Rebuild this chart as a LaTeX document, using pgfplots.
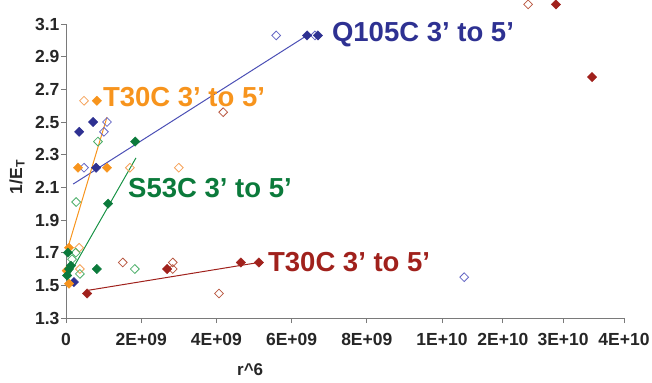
\documentclass[border=0pt]{standalone}
\usepackage{pgfplots}
\pgfplotsset{compat=1.18}
\usepackage{fontspec}
\setmainfont{Liberation Sans}
\definecolor{qblue}{HTML}{2E3192}
\definecolor{qbluel}{HTML}{4B4FB5}
\definecolor{qblueo}{HTML}{6466C4}
\definecolor{torange}{HTML}{F7941D}
\definecolor{torangeo}{HTML}{F5A25A}
\definecolor{sgreen}{HTML}{0B7A3B}
\definecolor{sgreenl}{HTML}{1B9448}
\definecolor{sgreeno}{HTML}{4DAF6A}
\definecolor{tred}{HTML}{A0211C}
\definecolor{tredo}{HTML}{B8563F}
\definecolor{axgray}{HTML}{7A7A7A}
\begin{document}
\begin{tikzpicture}
\useasboundingbox (-66bp,-65bp) rectangle (586bp,318bp);
\begin{axis}[
  at={(0,0)}, anchor=south west,
  scale only axis, width=558bp, height=294bp,
  xmin=0, xmax=14.84, ymin=1.3, ymax=3.1,
  axis x line=bottom, axis y line=left,
  axis line style={-, draw=axgray, line width=0.9pt},
  tick align=outside, major tick length=5bp,
  tick style={draw=axgray, line width=0.9pt},
  xtick={0,2,4,6,8,10,11.62,13.22,14.84},
  xticklabels={0,2E+09,4E+09,6E+09,8E+09,1E+10,2E+10,3E+10,4E+10},
  ytick={1.3,1.5,1.7,1.9,2.1,2.3,2.5,2.7,2.9,3.1},
  yticklabel style={xshift=2bp, /pgf/number format/.cd, fixed, fixed zerofill, precision=1},
  /pgf/number format/assume math mode=true,
  ticklabel style={font=\fontsize{17.5bp}{20bp}\selectfont\bfseries, text=black!85},
  xticklabel style={yshift=-7bp},
  xlabel={r\^{}6},
  xlabel style={at={(axis description cs:0.33,0)}, anchor=center, yshift=-52bp, font=\fontsize{17bp}{20bp}\selectfont\bfseries, text=black!85},
  ylabel={1/E\textsubscript{T}},
  ylabel style={at={(axis description cs:-0.0878,0.48)}, anchor=center, font=\fontsize{17.5bp}{20bp}\selectfont\bfseries, text=black!85},
  clip=false,
  every axis plot/.append style={line width=1pt},
]
% trend lines
\addplot[qbluel, no marks] coordinates {(0.19,2.12) (6.41,3.03)};
\addplot[torange, no marks] coordinates {(0.05,1.73) (1.09,2.53)};
\addplot[sgreenl, no marks] coordinates {(0.05,1.55) (1.86,2.28)};
\addplot[tred, no marks] coordinates {(0.60,1.47) (5.13,1.64)};
% open markers
\addplot[only marks, mark=square, mark size=3.1bp, mark options={rotate=45, draw=qblueo, fill=white, line width=0.8pt}] coordinates {
(1.09,2.50) (1.01,2.44) (0.48,2.22) (5.59,3.03) (10.59,1.55) (6.62,3.03)};
\addplot[only marks, mark=square, mark size=3.1bp, mark options={rotate=45, draw=torangeo, fill=white, line width=0.8pt}] coordinates {
(0.48,2.63) (1.70,2.22) (3.00,2.22) (0.35,1.73) (0.37,1.60)};
\addplot[only marks, mark=square, mark size=3.1bp, mark options={rotate=45, draw=sgreeno, fill=white, line width=0.8pt}] coordinates {
(0.85,2.38) (0.27,2.01) (0.26,1.70) (0.16,1.66) (0.37,1.57) (1.83,1.60)};
\addplot[only marks, mark=square, mark size=3.1bp, mark options={rotate=45, draw=tredo, fill=white, line width=0.8pt}] coordinates {
(1.51,1.64) (2.84,1.64) (2.84,1.60) (4.07,1.45) (4.18,2.56) (12.29,3.22)};
% filled markers
\addplot[only marks, mark=square*, mark size=3.3bp, mark options={rotate=45, draw=qblue, fill=qblue, line width=0.4pt}] coordinates {
(0.35,2.44) (0.72,2.50) (0.80,2.22) (0.21,1.52) (6.41,3.03) (6.70,3.03)};
\addplot[only marks, mark=square*, mark size=3.3bp, mark options={rotate=45, draw=torange, fill=torange, line width=0.4pt}] coordinates {
(0.82,2.63) (0.32,2.22) (1.09,2.22) (0.08,1.73) (0.02,1.59) (0.08,1.51)};
\addplot[only marks, mark=square*, mark size=3.3bp, mark options={rotate=45, draw=sgreen, fill=sgreen, line width=0.4pt}] coordinates {
(1.84,2.38) (1.12,2.00) (0.05,1.70) (0.13,1.62) (0.08,1.60) (0.03,1.56) (0.82,1.60)};
\addplot[only marks, mark=square*, mark size=3.3bp, mark options={rotate=45, draw=tred, fill=tred, line width=0.4pt}] coordinates {
(0.56,1.45) (2.69,1.60) (4.65,1.64) (5.13,1.64) (13.03,3.22) (13.99,2.775)};
% annotations
\node[anchor=west, inner sep=0pt, text=qblue, font=\fontsize{27.5bp}{30bp}\selectfont\bfseries] at (axis cs:7.07,3.033) {Q105C 3’ to 5’};
\node[anchor=west, inner sep=0pt, text=torange, font=\fontsize{27.5bp}{30bp}\selectfont\bfseries] at (axis cs:0.98,2.652) {T30C 3’ to 5’};
\node[anchor=west, inner sep=0pt, text=sgreen, font=\fontsize{27.5bp}{30bp}\selectfont\bfseries] at (axis cs:1.65,2.094) {S53C 3’ to 5’};
\node[anchor=west, inner sep=0pt, text=tred, font=\fontsize{27.5bp}{30bp}\selectfont\bfseries] at (axis cs:5.37,1.64) {T30C 3’ to 5’};
\end{axis}
\end{tikzpicture}
\end{document}
